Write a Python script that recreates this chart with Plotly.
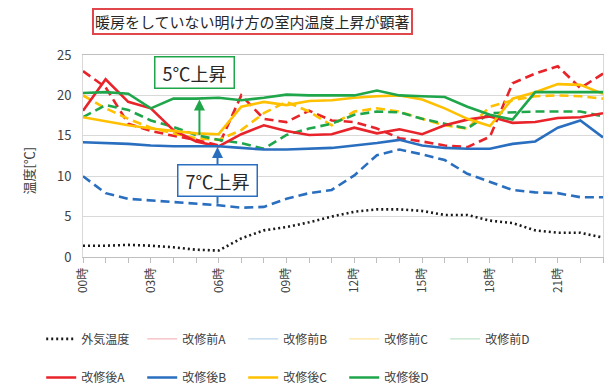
import plotly.graph_objects as go

hours = list(range(24))
tick_vals = [0, 3, 6, 9, 12, 15, 18, 21]
tick_text = ["00時", "03時", "06時", "09時", "12時", "15時", "18時", "21時"]

outdoor = [1.4, 1.4, 1.5, 1.4, 1.2, 0.9, 0.8, 2.3, 3.3, 3.7, 4.3, 5.0,
           5.6, 5.9, 5.9, 5.7, 5.2, 5.2, 4.5, 4.2, 3.3, 3.0, 3.0, 2.4]

before_a = [23.0, 21.0, 16.5, 15.6, 15.0, 14.5, 13.8, 20.0, 17.1, 16.7, 18.1, 16.9,
            16.7, 15.9, 14.7, 14.3, 13.8, 13.6, 14.9, 21.5, 22.7, 23.6, 20.9, 22.7]
before_b = [10.0, 7.9, 7.2, 7.0, 6.8, 6.6, 6.4, 6.1, 6.2, 7.2, 7.9, 8.3,
            10.1, 12.6, 13.3, 12.7, 12.0, 10.3, 9.3, 8.3, 8.0, 7.9, 7.4, 7.4]
before_c = [20.0, 18.4, 17.1, 16.0, 15.3, 14.7, 14.5, 15.7, 17.8, 19.2, 18.0, 16.3,
            18.0, 18.4, 18.0, 17.1, 16.3, 15.9, 18.6, 19.4, 19.9, 20.0, 19.9, 19.6]
before_d = [17.3, 18.8, 18.2, 16.9, 16.1, 15.1, 14.5, 14.1, 13.4, 15.1, 15.9, 16.5,
            17.6, 18.0, 17.9, 17.1, 16.5, 15.9, 17.8, 17.9, 18.0, 18.0, 18.0, 17.4]

after_a = [18.1, 22.0, 19.2, 18.4, 15.7, 14.3, 13.7, 15.2, 16.3, 15.6, 15.1, 15.2,
           16.0, 15.3, 15.8, 15.2, 16.3, 17.0, 17.4, 16.6, 16.7, 17.2, 17.3, 17.8]
after_b = [14.2, 14.1, 14.0, 13.8, 13.7, 13.7, 13.7, 13.5, 13.3, 13.3, 13.4, 13.5,
           13.8, 14.1, 14.5, 13.8, 13.5, 13.4, 13.4, 14.0, 14.3, 16.0, 16.9, 14.8]
after_c = [17.3, 16.8, 16.3, 15.9, 15.6, 15.3, 15.2, 18.6, 19.2, 18.8, 19.3, 19.4,
           19.7, 19.9, 20.0, 19.5, 18.4, 17.1, 16.2, 19.6, 20.4, 21.4, 21.3, 20.2]
after_d = [20.3, 20.4, 20.2, 18.4, 19.6, 19.6, 19.7, 19.4, 19.7, 20.1, 20.0, 20.0,
           20.0, 20.6, 20.0, 19.9, 19.8, 18.6, 17.6, 17.0, 20.4, 20.4, 20.4, 20.4]

RED, BLUE, YELLOW, GREEN = "#E8232A", "#2A6FBF", "#FFC000", "#1FA64A"
PALE = {"A": "#F6B9BE", "B": "#BCD6EE", "C": "#FFE49A", "D": "#BFE3C8"}
FONT = "Noto Sans CJK JP, Noto Sans, sans-serif"

fig = go.Figure()

# outdoor temperature (dotted)
fig.add_trace(go.Scatter(x=hours, y=outdoor, mode="lines", name="外気温度",
                         line=dict(color="#1a1a1a", width=2.6, dash="2px,3px"),
                         legend="legend"))

# before renovation: dashed lines in the plot, pale solid keys in the legend
before = [("A", before_a, RED), ("B", before_b, BLUE),
          ("C", before_c, YELLOW), ("D", before_d, GREEN)]
for key, vals, col in before:
    fig.add_trace(go.Scatter(x=hours, y=vals, mode="lines", name="改修前" + key,
                             line=dict(color=col, width=2.6, dash="9px,5px"),
                             showlegend=False))
for key, vals, col in before:
    fig.add_trace(go.Scatter(x=[None], y=[None], mode="lines", name="改修前" + key,
                             line=dict(color=PALE[key], width=1.2),
                             legend="legend"))

# after renovation: solid lines
after = [("A", after_a, RED), ("B", after_b, BLUE),
         ("C", after_c, YELLOW), ("D", after_d, GREEN)]
for key, vals, col in after:
    fig.add_trace(go.Scatter(x=hours, y=vals, mode="lines", name="改修後" + key,
                             line=dict(color=col, width=2.6),
                             legend="legend2"))

legend_common = dict(orientation="h", entrywidth=56, entrywidthmode="pixels",
                     font=dict(family=FONT, size=12, color="#404040"),
                     bgcolor="rgba(0,0,0,0)", xanchor="left", yanchor="middle",
                     xref="container", yref="container",
                     itemwidth=30, tracegroupgap=0)

fig.update_layout(
    width=606, height=386,
    margin=dict(l=83, r=3, t=55, b=129, pad=0),
    paper_bgcolor="white", plot_bgcolor="white",
    font=dict(family=FONT, color="#404040"),
    legend=dict(x=0.068, y=0.122, **legend_common),
    legend2=dict(x=0.068, y=0.022, **legend_common),
    xaxis=dict(range=[0, 23], tickvals=tick_vals, ticktext=tick_text,
               tickangle=-90, tickfont=dict(size=12, color="#404040"),
               ticks="outside", ticklen=5, tickcolor="#BFBFBF",
               minor=dict(dtick=1, tick0=0, ticks="outside", ticklen=5,
                          tickcolor="#BFBFBF", showgrid=False),
               showgrid=False, zeroline=False,
               showline=True, linecolor="#BFBFBF", linewidth=1, mirror=True),
    yaxis=dict(range=[0, 25], dtick=5, tickfont=dict(size=13, color="#404040"),
               showgrid=True, gridcolor="#D9D9D9", gridwidth=1,
               zeroline=False, ticks="", ticklabelstandoff=8,
               showline=True, linecolor="#D9D9D9", linewidth=1, mirror=True),
)

annotations = [
    # green arrow: rise of the after-renovation curve
    dict(x=5.15, y=19.5, ax=5.15, ay=14.9, xref="x", yref="y", axref="x", ayref="y",
         text="", showarrow=True, arrowhead=2, arrowsize=1.1, arrowwidth=2,
         arrowcolor=GREEN),
    # blue arrow: rise from the before-renovation curve
    dict(x=5.95, y=13.6, ax=5.95, ay=6.4, xref="x", yref="y", axref="x", ayref="y",
         text="", showarrow=True, arrowhead=2, arrowsize=1.1, arrowwidth=2,
         arrowcolor=BLUE),
    dict(x=4.92, y=22.8, xref="x", yref="y", xanchor="center", yanchor="middle",
         text="5℃上昇", showarrow=False, width=74,
         font=dict(size=18, color="#262626", family=FONT),
         bgcolor="white", bordercolor=GREEN, borderwidth=1.5, borderpad=2),
    dict(x=5.96, y=9.45, xref="x", yref="y", xanchor="center", yanchor="middle",
         text="7℃上昇", showarrow=False, width=74,
         font=dict(size=18, color="#262626", family=FONT),
         bgcolor="white", bordercolor=BLUE, borderwidth=1.5, borderpad=2),
    dict(x=0.326, y=1.164, xref="paper", yref="paper", xanchor="center",
         yanchor="middle",
         text="暖房をしていない明け方の室内温度上昇が顕著", showarrow=False,
         font=dict(size=15, color="#262626", family=FONT),
         bgcolor="white", bordercolor="#E0474C", borderwidth=2, borderpad=1),
    dict(x=-0.127, y=0.43, xref="paper", yref="paper", text="温度[℃]",
         textangle=-90, showarrow=False,
         font=dict(size=13, color="#404040", family=FONT)),
]
fig.update_layout(annotations=annotations)

fig.write_html("out.html")
